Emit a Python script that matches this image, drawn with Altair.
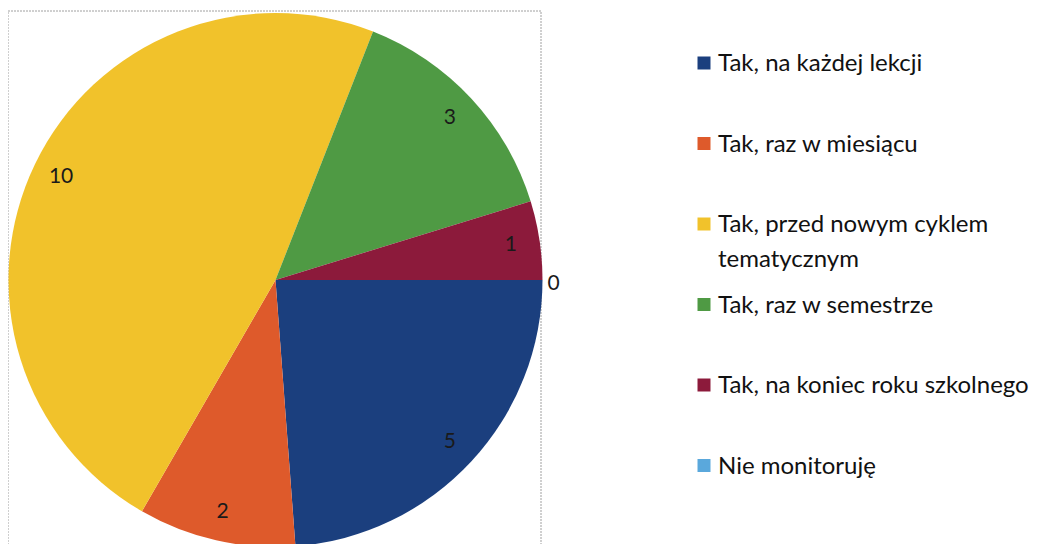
import math
import altair as alt
import pandas as pd

categories = [
    "Tak, na każdej lekcji",
    "Tak, raz w miesiącu",
    "Tak, przed nowym cyklem tematycznym",
    "Tak, raz w semestrze",
    "Tak, na koniec roku szkolnego",
    "Nie monitoruję",
]
values = [5, 2, 10, 3, 1, 0]
colors = ["#1b3f7e", "#de5a2b", "#f1c22b", "#4f9a44", "#8c1a3b", "#5aa8dc"]

df = pd.DataFrame({"cat": categories, "value": values})

FONT = "Lato"
CX, CY, R = 267.5, 272, 267

base = alt.Chart(df).transform_window(idx="row_number()")

color = alt.Color("cat:N", scale=alt.Scale(domain=categories, range=colors), legend=None)
theta = alt.Theta("value:Q", stack=True,
                  scale=alt.Scale(range=[math.pi / 2, math.pi / 2 + 2 * math.pi]))
order = alt.Order("idx:Q")

border = alt.Chart(df).mark_rect(filled=False, stroke="#a0a0a0", strokeWidth=1,
                                 strokeDash=[2, 1]).encode(
    x=alt.value(0), x2=alt.value(533), y=alt.value(3), y2=alt.value(700)
).transform_filter("datum.value == 10")

pie = base.mark_arc(radius=R).encode(
    theta=theta, color=color, order=order,
    x=alt.value(CX), y=alt.value(CY),
)

labels = base.mark_text(radius=238, font=FONT, fontSize=21, color="#1a1a1a").encode(
    theta=theta, order=order, text="value:Q",
    x=alt.value(CX), y=alt.value(CY),
).transform_filter("datum.value > 0")

zero_label = base.mark_text(radius=278, font=FONT, fontSize=21, color="#1a1a1a").encode(
    theta=theta, order=order, text="value:Q",
    x=alt.value(CX), y=alt.value(CY + 4),
).transform_filter("datum.value == 0")

ypos = alt.Y("cat:N", axis=None,
             scale=alt.Scale(type="point", domain=categories, range=[55, 457.5], padding=0))

leg_sym = alt.Chart(df).mark_square(size=169, opacity=1).encode(
    x=alt.value(696), y=ypos, color=color,
)

leg_txt = alt.Chart(df).transform_calculate(
    lines="datum.cat == 'Tak, przed nowym cyklem tematycznym' ? "
          "['Tak, przed nowym cyklem', 'tematycznym'] : datum.cat"
).mark_text(align="left", baseline="top", dy=-11, font=FONT, fontSize=24,
            lineHeight=35, color="#111111").encode(
    x=alt.value(710), y=ypos, text="lines:N",
)

chart = alt.layer(border, pie, labels, zero_label, leg_sym, leg_txt).properties(
    width=1032, height=536, padding=0,
    autosize=alt.AutoSizeParams(type="none"),
).configure_view(stroke=None)

chart.save("out.html", embed_options={"renderer": "svg", "actions": False})
